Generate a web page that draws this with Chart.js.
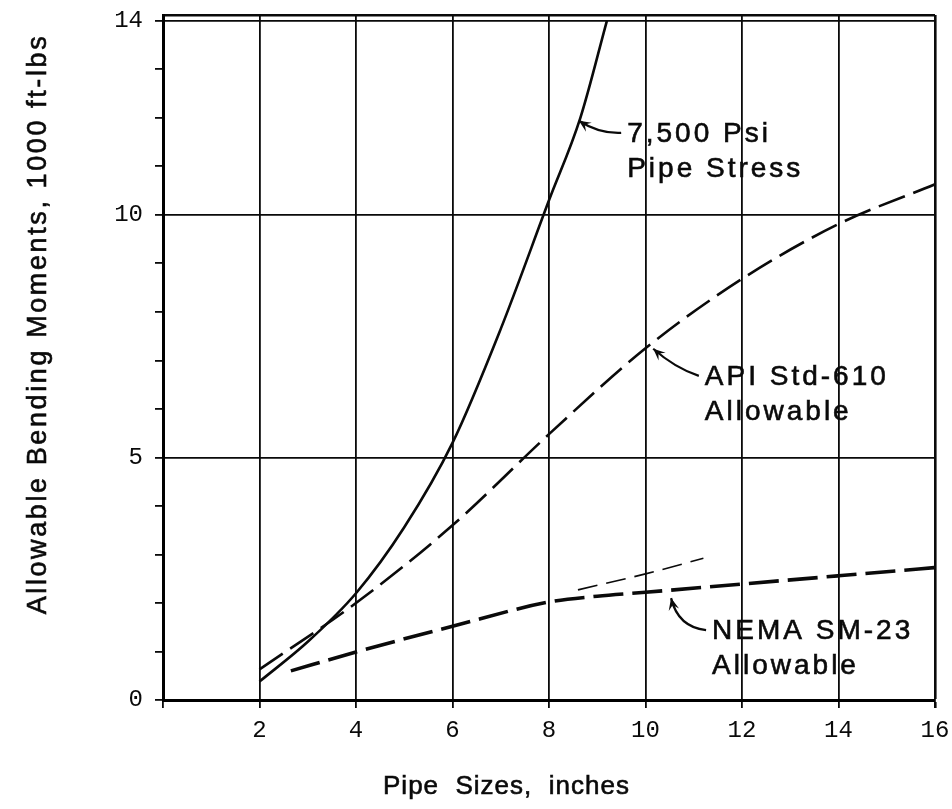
<!DOCTYPE html>
<html lang="en">
<head>
<meta charset="UTF-8">
<title>Allowable Bending Moments</title>
<script src="https://cdn.jsdelivr.net/npm/chart.js"></script>
<style>
  html, body { margin: 0; padding: 0; background: #fff; overflow: hidden; }
  #momentCanvas { display: block; }
</style>
</head>
<body>
<canvas id="momentCanvas" width="952" height="809"></canvas>
<script>
// pipe size (inches) -> allowable bending moment (1000 ft-lbs)
const stressSizes  = [2, 3, 4, 5, 6, 7, 8, 8.65, 9.2];
const stressValues = [0.38, 1.2, 2.2, 3.56, 5.3, 7.65, 10.3, 12.0, 14.0];

const apiSizes  = [2, 4, 6, 8, 10, 12, 14, 16];
const apiValues = [0.63, 2.0, 3.6, 5.48, 7.25, 8.68, 9.81, 10.63];

const nemaSizes  = [2.65, 4, 6, 8, 9, 10, 12, 14, 16];
const nemaValues = [0.6, 0.99, 1.52, 2.02, 2.14, 2.22, 2.39, 2.56, 2.73];

// thin dashed line running on above the NEMA curve
const extSizes  = [8.6, 10, 11.2];
const extValues = [2.27, 2.6, 2.92];

const xTicks = [0, 2, 4, 6, 8, 10, 12, 14, 16];
const yTicks = [0, 1, 2, 3, 4, 5, 6, 7, 8, 9, 10, 11, 12, 13, 14];
const yLabelled = [0, 5, 10, 14];
const yGridLines = [5, 10, 14];
const yTop = 14.12;

const xTitle = 'Pipe  Sizes,  inches';
const yTitle = 'Allowable Bending Moments, 1000 ft-lbs';

// curve labels: text, where the text starts (data units), where the arrow points
const notes = [
  { text: ['7,500 Psi', 'Pipe Stress'], at: [9.62, 11.67], tip: [8.62, 11.94], bend: [-22, 1] },
  { text: ['API Std-610', 'Allowable'], at: [11.23, 6.66], tip: [10.16, 7.24], bend: [-24, -8] },
  { text: ['NEMA SM-23', 'Allowable'], at: [11.38, 1.42], tip: [10.53, 2.1], bend: [-28, -3] }
];

const ink = '#0a0a0a';
const none = 'rgba(0,0,0,0)';
const sans = '"Liberation Sans", Arial, sans-serif';
const mono = '"Liberation Mono", "DejaVu Sans Mono", monospace';

function pairs(xs, ys) {
  return xs.map((x, i) => ({ x: x, y: ys[i] }));
}

// scanned lettering looks a little heavier than a plain fill
function inkText(ctx, t, px, py) {
  ctx.fillText(t, px, py);
  ctx.strokeText(t, px, py);
}

const textPlugin = {
  id: 'figureText',
  afterDatasetsDraw(chart) {
    const { ctx, scales: { x, y } } = chart;
    ctx.save();
    ctx.fillStyle = ink;
    ctx.strokeStyle = ink;
    ctx.textBaseline = 'middle';
    ctx.textAlign = 'left';

    // curve notes with arrows
    ctx.font = '28px ' + sans;
    ctx.letterSpacing = '3px';
    notes.forEach(n => {
      const tx = x.getPixelForValue(n.at[0]);
      const ty = y.getPixelForValue(n.at[1]);
      ctx.lineWidth = 0.6;
      n.text.forEach((t, i) => inkText(ctx, t, tx, ty + i * 35));

      const ax = x.getPixelForValue(n.tip[0]);
      const ay = y.getPixelForValue(n.tip[1]);
      const sx = tx - 6, sy = ty - 1;
      const cx = sx + n.bend[0], cy = sy + n.bend[1];
      ctx.lineWidth = 2.2;
      ctx.beginPath();
      ctx.moveTo(sx, sy);
      ctx.quadraticCurveTo(cx, cy, ax, ay);
      ctx.stroke();

      const ang = Math.atan2(ay - cy, ax - cx);
      const len = 13, spread = 0.42;
      ctx.beginPath();
      ctx.moveTo(ax, ay);
      ctx.lineTo(ax - len * Math.cos(ang - spread), ay - len * Math.sin(ang - spread));
      ctx.lineTo(ax - 7 * Math.cos(ang), ay - 7 * Math.sin(ang));
      ctx.lineTo(ax - len * Math.cos(ang + spread), ay - len * Math.sin(ang + spread));
      ctx.closePath();
      ctx.fill();
    });

    // axis titles
    ctx.lineWidth = 0.6;
    ctx.font = '26px ' + sans;
    ctx.letterSpacing = '1px';
    inkText(ctx, xTitle, x.getPixelForValue(4.56), 787);

    ctx.font = '27px ' + sans;
    ctx.letterSpacing = '2.6px';
    ctx.textAlign = 'center';
    ctx.translate(39, y.getPixelForValue(7.75));
    ctx.rotate(-Math.PI / 2);
    inkText(ctx, yTitle, 0, 0);
    ctx.restore();
  }
};

const canvas = document.getElementById('momentCanvas');
new Chart(canvas.getContext('2d'), {
  type: 'line',
  data: {
    datasets: [
      {
        label: '7,500 Psi Pipe Stress',
        data: pairs(stressSizes, stressValues),
        borderColor: ink, borderWidth: 2.6,
        cubicInterpolationMode: 'monotone'
      },
      {
        label: 'API Std-610 Allowable',
        data: pairs(apiSizes, apiValues),
        borderColor: ink, borderWidth: 2.6, borderDash: [28, 9],
        cubicInterpolationMode: 'monotone'
      },
      {
        label: 'NEMA SM-23 Allowable',
        data: pairs(nemaSizes, nemaValues),
        borderColor: ink, borderWidth: 3.6, borderDash: [30, 9],
        cubicInterpolationMode: 'monotone'
      },
      {
        label: 'extension',
        data: pairs(extSizes, extValues),
        borderColor: ink, borderWidth: 1.6, borderDash: [20, 9],
        cubicInterpolationMode: 'monotone'
      }
    ]
  },
  options: {
    responsive: false,
    animation: false,
    layout: { padding: { top: 15, right: 0, bottom: 0, left: 0 } },
    elements: { point: { radius: 0 } },
    plugins: { legend: { display: false }, tooltip: { enabled: false } },
    scales: {
      x: {
        type: 'linear',
        min: 0,
        max: 16,
        afterBuildTicks: s => { s.ticks = xTicks.map(v => ({ value: v })); },
        afterFit: s => { s.height = 109; s.paddingLeft = 0; s.paddingRight = 17; },
        ticks: {
          callback: v => (v === 0 ? '' : String(v)),
          font: { family: mono, size: 24 },
          color: ink,
          padding: 8,
          maxRotation: 0,
          autoSkip: false
        },
        grid: {
          color: c => (c.tick && c.tick.value === 0 ? none : ink),
          lineWidth: c => (c.tick && c.tick.value === 16 ? 2.6 : 1.8),
          tickColor: ink,
          tickLength: 8
        },
        border: { color: '#000', width: 3 }
      },
      y: {
        min: 0,
        max: yTop,
        afterBuildTicks: s => { s.ticks = yTicks.concat([yTop]).map(v => ({ value: v })); },
        afterFit: s => { s.width = 163; s.paddingTop = 0; s.paddingBottom = 0; },
        ticks: {
          callback: v => (yLabelled.includes(v) ? String(v) : ''),
          font: { family: mono, size: 24 },
          color: ink,
          padding: 12,
          autoSkip: false
        },
        grid: {
          color: c => (c.tick && (yGridLines.includes(c.tick.value) || c.tick.value === yTop) ? ink : none),
          lineWidth: c => (c.tick && c.tick.value === yTop ? 2.6 : 1.8),
          tickColor: c => (c.tick && c.tick.value <= 14 ? ink : none),
          tickLength: 8
        },
        border: { color: '#000', width: 3 }
      }
    }
  },
  plugins: [textPlugin]
});
</script>
</body>
</html>
